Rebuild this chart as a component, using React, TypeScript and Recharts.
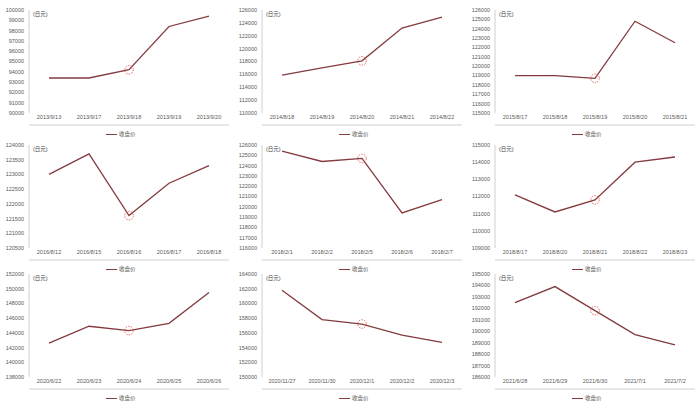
import { LineChart, Line, XAxis, YAxis, ReferenceDot } from "recharts";

const dates2013 = ["2013/9/13", "2013/9/17", "2013/9/18", "2013/9/19", "2013/9/20"];
const close2013 = [93400, 93400, 94200, 98400, 99400];
const ticks2013 = [90000, 91000, 92000, 93000, 94000, 95000, 96000, 97000, 98000, 99000, 100000];

const dates2014 = ["2014/8/18", "2014/8/19", "2014/8/20", "2014/8/21", "2014/8/22"];
const close2014 = [115900, 117000, 118100, 123200, 124900];
const ticks2014 = [110000, 112000, 114000, 116000, 118000, 120000, 122000, 124000, 126000];

const dates2015 = ["2015/8/17", "2015/8/18", "2015/8/19", "2015/8/20", "2015/8/21"];
const close2015 = [119000, 119000, 118700, 124800, 122500];
const ticks2015 = [115000, 116000, 117000, 118000, 119000, 120000, 121000, 122000, 123000, 124000, 125000, 126000];

const dates2016 = ["2016/8/12", "2016/8/15", "2016/8/16", "2016/8/17", "2016/8/18"];
const close2016 = [123000, 123700, 121600, 122700, 123300];
const ticks2016 = [120500, 121000, 121500, 122000, 122500, 123000, 123500, 124000];

const dates2018a = ["2018/2/1", "2018/2/2", "2018/2/5", "2018/2/6", "2018/2/7"];
const close2018a = [125400, 124400, 124700, 119400, 120700];
const ticks2018a = [116000, 117000, 118000, 119000, 120000, 121000, 122000, 123000, 124000, 125000, 126000];

const dates2018b = ["2018/8/17", "2018/8/20", "2018/8/21", "2018/8/22", "2018/8/23"];
const close2018b = [112100, 111100, 111800, 114000, 114300];
const ticks2018b = [109000, 110000, 111000, 112000, 113000, 114000, 115000];

const dates2020a = ["2020/6/22", "2020/6/23", "2020/6/24", "2020/6/25", "2020/6/26"];
const close2020a = [142600, 144900, 144300, 145300, 149500];
const ticks2020a = [138000, 140000, 142000, 144000, 146000, 148000, 150000, 152000];

const dates2020b = ["2020/11/27", "2020/11/30", "2020/12/1", "2020/12/2", "2020/12/3"];
const close2020b = [161800, 157800, 157200, 155700, 154700];
const ticks2020b = [150000, 152000, 154000, 156000, 158000, 160000, 162000, 164000];

const dates2021 = ["2021/6/28", "2021/6/29", "2021/6/30", "2021/7/1", "2021/7/2"];
const close2021 = [192500, 193900, 191800, 189700, 188800];
const ticks2021 = [186000, 187000, 188000, 189000, 190000, 191000, 192000, 193000, 194000, 195000];

const unitLabel = "(日元)";
const seriesName = "收盘价";
const markedIndex = 2;

const panels = [
  { dates: dates2013, values: close2013, ticks: ticks2013 },
  { dates: dates2014, values: close2014, ticks: ticks2014 },
  { dates: dates2015, values: close2015, ticks: ticks2015 },
  { dates: dates2016, values: close2016, ticks: ticks2016 },
  { dates: dates2018a, values: close2018a, ticks: ticks2018a },
  { dates: dates2018b, values: close2018b, ticks: ticks2018b },
  { dates: dates2020a, values: close2020a, ticks: ticks2020a },
  { dates: dates2020b, values: close2020b, ticks: ticks2020b },
  { dates: dates2021, values: close2021, ticks: ticks2021 },
];

const FONT = '"Liberation Sans", "Noto Sans CJK SC", sans-serif';
const LINE = "#843b3e";
const AXIS = "#d0d0d0";
const TEXT = "#595959";

const rowTops = [0, 135, 270];
const plotTops = [10, 10, 4];
const legendTops = [131, 266, 395];
const PANEL_W = 233;
const PANEL_H = 135;
const PLOT_H = 103;

function Panel({ dates, values, ticks, row }: { dates: string[]; values: number[]; ticks: number[]; row: number }) {
  const data = dates.map((d, i) => ({ date: d, pos: i + 0.5, close: values[i] }));
  const top = plotTops[row];
  const bottom = PANEL_H - top - PLOT_H - 15;
  return (
    <div style={{ position: "relative", width: PANEL_W, height: PANEL_H }}>
      <LineChart width={PANEL_W} height={PANEL_H} data={data} margin={{ top, right: 4, bottom, left: 0 }}>
        <XAxis
          xAxisId="pos"
          dataKey="pos"
          type="number"
          domain={[0, dates.length]}
          ticks={dates.map((_, i) => i).concat(dates.length)}
          tick={false}
          tickSize={3}
          height={3}
          stroke={AXIS}
        />
        <XAxis
          xAxisId="lbl"
          dataKey="date"
          type="category"
          scale="band"
          axisLine={false}
          tickLine={false}
          tickSize={0}
          tickMargin={2}
          height={12}
          interval={0}
          tick={{ fontSize: 5.5, fill: TEXT, fontFamily: FONT }}
        />
        <YAxis
          domain={[ticks[0], ticks[ticks.length - 1]]}
          ticks={ticks}
          interval={0}
          width={29}
          tickLine={false}
          tickSize={0}
          tickMargin={5}
          stroke={AXIS}
          tick={{ fontSize: 5.5, fill: TEXT, fontFamily: FONT }}
        />
        <Line
          xAxisId="pos"
          dataKey="close"
          stroke={LINE}
          strokeWidth={1.3}
          dot={false}
          isAnimationActive={false}
        />
        <ReferenceDot
          xAxisId="pos"
          x={data[markedIndex].pos}
          y={values[markedIndex]}
          r={4.3}
          fill="none"
          stroke="#e8413c"
          strokeWidth={0.8}
          strokeDasharray="1.5 1.2"
        />
      </LineChart>
      <div
        style={{
          position: "absolute",
          left: 33,
          top: top + 0.5,
          fontSize: 5.5,
          color: "#404040",
          fontFamily: FONT,
          lineHeight: "7px",
        }}
      >
        {unitLabel}
      </div>
    </div>
  );
}

function LegendItem() {
  return (
    <div style={{ display: "flex", alignItems: "center", fontSize: 5.5, color: TEXT, fontFamily: FONT, lineHeight: "7px" }}>
      <span style={{ display: "inline-block", width: 11, height: 1.3, background: LINE, marginRight: 2 }} />
      <span>{seriesName}</span>
    </div>
  );
}

export default function App() {
  return (
    <div style={{ position: "fixed", left: 0, top: 0, width: 700, height: 407, background: "#fff", overflow: "hidden" }}>
      {panels.map((p, i) => {
        const row = Math.floor(i / 3);
        const col = i % 3;
        return (
          <div key={i} style={{ position: "absolute", left: col * PANEL_W, top: rowTops[row] }}>
            <Panel dates={p.dates} values={p.values} ticks={p.ticks} row={row} />
          </div>
        );
      })}
      {panels.map((_, i) => {
        const row = Math.floor(i / 3);
        const col = i % 3;
        return (
          <div key={"lg" + i} style={{ position: "absolute", left: col * PANEL_W + 106, top: legendTops[row] }}>
            <LegendItem />
          </div>
        );
      })}
    </div>
  );
}
